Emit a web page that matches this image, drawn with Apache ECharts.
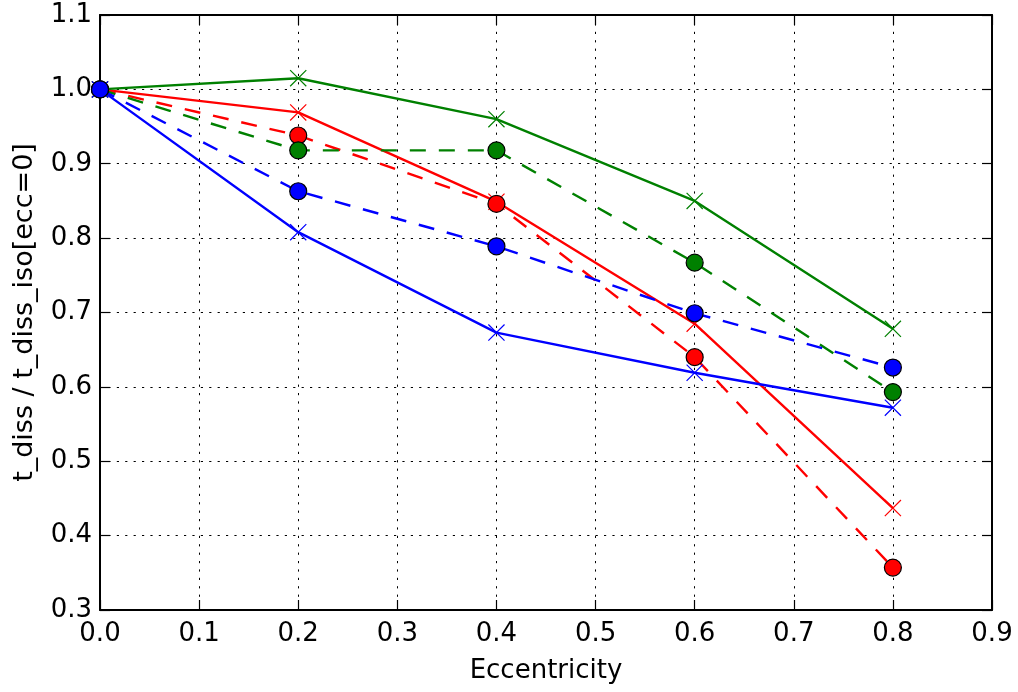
<!DOCTYPE html>
<html>
<head>
<meta charset="utf-8">
<script src="https://cdn.jsdelivr.net/npm/echarts@6/dist/echarts.min.js"></script>
<style>
  html, body { margin: 0; padding: 0; background: #ffffff; }
  #chart { width: 1018px; height: 692px; }
</style>
</head>
<body>
<div id="chart"></div>
<script>
// Eccentricity sample points
const ecc = [0.0, 0.2, 0.4, 0.6, 0.8];

// Normalised dissipation time, t_diss / t_diss_iso[ecc=0]
const redSolid    = [1.000, 0.969, 0.849, 0.685, 0.437];
const redDashed   = [1.000, 0.938, 0.846, 0.640, 0.357];
const greenSolid  = [1.000, 1.015, 0.960, 0.850, 0.678];
const greenDashed = [1.000, 0.918, 0.918, 0.767, 0.593];
const blueSolid   = [1.000, 0.808, 0.673, 0.619, 0.572];
const blueDashed  = [1.000, 0.863, 0.789, 0.699, 0.626];

// Axis ranges
const xTicks = { min: 0.0, max: 0.9, step: 0.1 };
const yTicks = { min: 0.3, max: 1.1, step: 0.1 };

const FONT = 'DejaVu Sans';
const CROSS = 'path://M0,1L1,0L20,19L19,20ZM19,0L20,1L1,20L0,19Z';
const DASH = [16, 13];
const DOT = [2.2, 6.2];

const pairs = (ys) => ecc.map((x, i) => [x, ys[i]]);

function solid(name, ys, color) {
  return {
    name, type: 'line', data: pairs(ys),
    symbol: CROSS, symbolSize: 17, showSymbol: true,
    lineStyle: { color, width: 2.4, type: 'solid' },
    itemStyle: { color, borderWidth: 0 },
    emphasis: { disabled: true }
  };
}
function dashed(name, ys, color) {
  return {
    name, type: 'line', data: pairs(ys),
    symbol: 'circle', symbolSize: 17, showSymbol: true,
    lineStyle: { color, width: 2.4, type: DASH },
    itemStyle: { color, borderColor: '#000000', borderWidth: 1.2 },
    emphasis: { disabled: true }
  };
}

const frameLine = { show: true, onZero: false, lineStyle: { color: '#000000', width: 2 } };
const innerTick = { show: true, inside: true, length: 10, lineStyle: { color: '#000000', width: 1.2 } };
const gridDots = { show: true, lineStyle: { color: '#000000', width: 1, type: DOT } };
const fmt = (v) => Number(v).toFixed(1);

const chart = echarts.init(document.getElementById('chart'), null, { renderer: 'canvas' });
chart.setOption({
  animation: false,
  backgroundColor: '#ffffff',
  grid: { left: 100, right: 26, top: 15, bottom: 82, containLabel: false },
  xAxis: [
    {
      type: 'value', position: 'bottom',
      min: xTicks.min, max: xTicks.max, interval: xTicks.step,
      name: 'Eccentricity', nameLocation: 'middle', nameGap: 48,
      nameTextStyle: { fontFamily: FONT, fontSize: 26, color: '#000000' },
      axisLine: frameLine, axisTick: innerTick, splitLine: gridDots,
      axisLabel: { fontFamily: FONT, fontSize: 26, color: '#000000', margin: 11, formatter: fmt }
    },
    {
      type: 'value', position: 'top',
      min: xTicks.min, max: xTicks.max, interval: xTicks.step,
      axisLine: frameLine, axisTick: innerTick, splitLine: { show: false },
      axisLabel: { show: false }
    }
  ],
  yAxis: [
    {
      type: 'value', position: 'left',
      min: yTicks.min, max: yTicks.max, interval: yTicks.step,
      name: 't_diss / t_diss_iso[ecc=0]', nameLocation: 'middle', nameGap: 62,
      nameTextStyle: { fontFamily: FONT, fontSize: 27, color: '#000000' },
      axisLine: frameLine, axisTick: innerTick, splitLine: gridDots,
      axisLabel: { fontFamily: FONT, fontSize: 26, color: '#000000', margin: 8, formatter: fmt }
    },
    {
      type: 'value', position: 'right',
      min: yTicks.min, max: yTicks.max, interval: yTicks.step,
      axisLine: frameLine, axisTick: innerTick, splitLine: { show: false },
      axisLabel: { show: false }
    }
  ],
  series: [
    solid('red solid', redSolid, '#ff0000'),
    dashed('red dashed', redDashed, '#ff0000'),
    solid('green solid', greenSolid, '#008000'),
    dashed('green dashed', greenDashed, '#008000'),
    solid('blue solid', blueSolid, '#0000ff'),
    dashed('blue dashed', blueDashed, '#0000ff')
  ]
});
</script>
</body>
</html>
